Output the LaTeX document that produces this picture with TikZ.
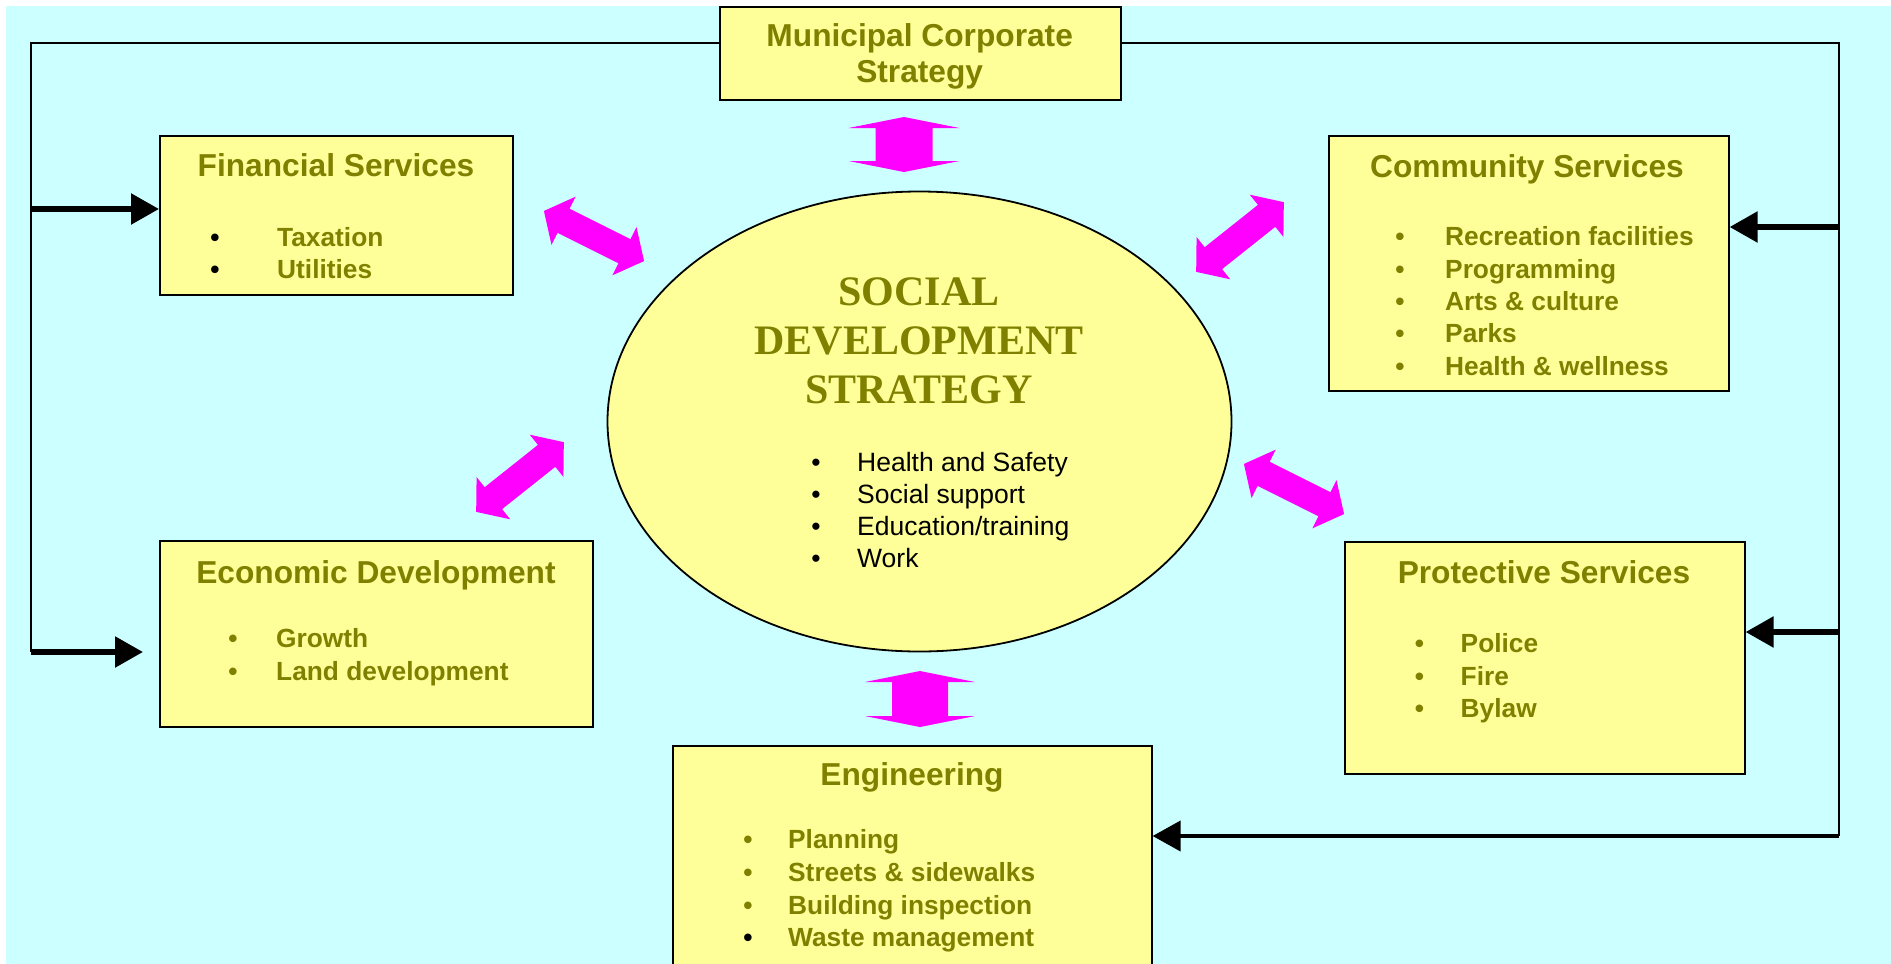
\documentclass[tikz,border=0pt]{standalone}
\usepackage{fontspec}
\setmainfont{Liberation Sans}
\newfontfamily\serifhead{Liberation Serif}
\usepackage{xcolor}
\usepackage{tikz}
\usetikzlibrary{arrows.meta,positioning,shapes.geometric}

\definecolor{skyback}{HTML}{CCFFFF}
\definecolor{paleyellow}{HTML}{FFFF99}
\definecolor{olivetext}{HTML}{808000}
\definecolor{linkpink}{HTML}{FF00FF}

% bullet line: name, style, bullet x, text x, baseline y, bullet colour, text
\newcommand{\entry}[7]{%
  \node[#2,text=#6,anchor=base] (#1-b) at (#3,#5) {\textbullet};
  \node[#2,anchor=base west] (#1) at (#4,#5) {#7};}

% two-headed block arrow: centre, angle, half length, head half width, shaft half width, head length
\newcommand{\duplex}[6]{%
  \fill[linkpink,shift={#1},rotate=#2]
    (-#3,0) -- ({-#3+#6},#4) -- ({-#3+#6},#5) -- ({#3-#6},#5) -- ({#3-#6},#4)
    -- (#3,0) -- ({#3-#6},-#4) -- ({#3-#6},-#5) -- ({-#3+#6},-#5) -- ({-#3+#6},-#4) -- cycle;}

\begin{document}
\begin{tikzpicture}[x=1pt,y=-1pt,
    unit/.style={draw,line width=1.6pt,fill=paleyellow,inner sep=0pt,anchor=north west},
    head/.style={font=\fontsize{31.7}{36}\selectfont\bfseries,text=olivetext,inner sep=0pt,anchor=base},
    item/.style={font=\fontsize{26.3}{32}\selectfont\bfseries,text=olivetext,inner sep=0pt},
    sdshead/.style={font=\serifhead\fontsize{42}{49}\selectfont\bfseries,text=olivetext,inner sep=0pt,anchor=base},
    sditem/.style={font=\fontsize{26.5}{32}\selectfont,text=black,inner sep=0pt},
    feed/.style={line width=2.2pt},
    feedarrow/.style={line width=5.5pt,-{Triangle[length=28pt,width=30pt]}}]
  \useasboundingbox (0,0) rectangle (1891,964);
  \clip (0,0) rectangle (1891,964);
  \fill[white] (0,0) rectangle (1891,964);
  \fill[skyback] (6,6) rectangle (1891,964);

  % departments
  \node[unit,minimum width=401pt,minimum height=93pt] (muni) at (719,6) {};
  \node[unit,minimum width=353pt,minimum height=159pt] (fin) at (159,135) {};
  \node[unit,minimum width=400pt,minimum height=255pt] (com) at (1328,135) {};
  \node[unit,minimum width=433pt,minimum height=186pt] (econ) at (159,540) {};
  \node[unit,minimum width=400pt,minimum height=232pt] (prot) at (1344,541) {};
  \node[unit,minimum width=479pt,minimum height=240pt] (eng) at (672,745) {};
  \node[ellipse,draw,line width=1.8pt,fill=paleyellow,inner sep=0pt,
        minimum width=624pt,minimum height=460pt] (sds) at (919.5,421.5) {};

  % feed from the corporate strategy
  \coordinate (lt) at (31,43);
  \coordinate (rt) at (1839,43);
  \coordinate (lfin) at (31,209);
  \coordinate (lecon) at (31,652);
  \coordinate (rcom) at (1839,227);
  \coordinate (rprot) at (1839,632);
  \coordinate (reng) at (1839,836);
  \draw[feed] (muni.west |- lt) -- (lt) -- (lecon);
  \draw[feed] (muni.east |- rt) -- (rt) -- (reng);
  \draw[feedarrow] (lfin) -- (lfin -| fin.west);
  \draw[feedarrow,shorten >=16pt] (lecon) -- (lecon -| econ.west);
  \draw[feedarrow] (rcom) -- (rcom -| com.east);
  \draw[feedarrow] (rprot) -- (rprot -| prot.east);
  \draw[feedarrow,line width=4pt] (reng) -- (reng -| eng.east);

  % links to the social strategy
  \duplex{(904,144.5)}{90}{27.5}{55.5}{28.5}{11}
  \duplex{(920,699)}{90}{28}{55}{28}{11}
  \duplex{(594,236)}{-26.57}{56}{27}{13.5}{22}
  \duplex{(1294,489)}{-26.57}{56}{27}{13.5}{22}
  \duplex{(1240,237)}{38.5}{56}{27}{14}{22}
  \duplex{(520,477)}{38.5}{56}{27}{14}{22}

  % headings
  \node[head] (muni-1) at (919.7,46.7) {Municipal Corporate};
  \node[head] (muni-2) at (919.7,82) {Strategy};
  \node[head] (fin-t) at (336,176) {Financial Services};
  \node[head] (com-t) at (1527,177) {Community Services};
  \node[head] (econ-t) at (376,583) {Economic Development};
  \node[head] (prot-t) at (1544,583) {Protective Services};
  \node[head] (eng-t) at (912,785) {Engineering};
  \node[sdshead] (sds-1) at (919,305) {SOCIAL};
  \node[sdshead] (sds-2) at (919,354) {DEVELOPMENT};
  \node[sdshead] (sds-3) at (919,403) {STRATEGY};

  % lists
  \entry{tax}{item}{215}{277}{246}{black}{Taxation}
  \entry{util}{item}{215}{277}{278}{black}{Utilities}
  \entry{rec}{item}{1400}{1445}{245.7}{olivetext}{Recreation facilities}
  \entry{prog}{item}{1400}{1445}{278}{olivetext}{Programming}
  \entry{arts}{item}{1400}{1445}{310.3}{olivetext}{Arts \& culture}
  \entry{parks}{item}{1400}{1445}{342.6}{olivetext}{Parks}
  \entry{well}{item}{1400}{1445}{375}{olivetext}{Health \& wellness}
  \entry{grow}{item}{233}{276}{647}{olivetext}{Growth}
  \entry{land}{item}{233}{276}{680}{olivetext}{Land development}
  \entry{pol}{item}{1419.5}{1460.5}{652.5}{olivetext}{Police}
  \entry{fire}{item}{1419.5}{1460.5}{685}{olivetext}{Fire}
  \entry{bylaw}{item}{1419.5}{1460.5}{717.5}{olivetext}{Bylaw}
  \entry{plan}{item}{748}{788}{848}{olivetext}{Planning}
  \entry{street}{item}{748}{788}{881.5}{olivetext}{Streets \& sidewalks}
  \entry{build}{item}{748}{788}{914}{olivetext}{Building inspection}
  \entry{waste}{item}{748}{788}{946.5}{black}{Waste management}
  \entry{hs}{sditem}{816}{857}{471}{black}{Health and Safety}
  \entry{sup}{sditem}{816}{857}{503}{black}{Social support}
  \entry{edu}{sditem}{816}{857}{535}{black}{Education/training}
  \entry{work}{sditem}{816}{857}{567}{black}{Work}
\end{tikzpicture}
\end{document}
